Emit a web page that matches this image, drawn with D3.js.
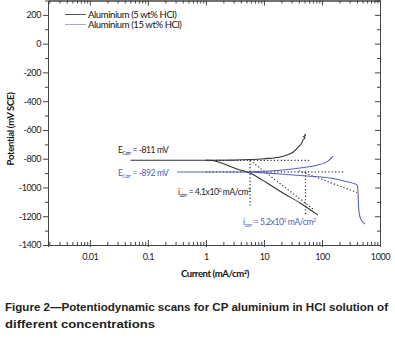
<!DOCTYPE html>
<html><head><meta charset="utf-8">
<script src="https://cdn.jsdelivr.net/npm/d3@7"></script>
<style>
body{margin:0;background:#fff;}
svg{display:block;}
.tick text{font-family:Lato,"Open Sans",sans-serif;font-size:9px;letter-spacing:-0.4px;fill:#222;}
.ann{font-family:Lato,"Open Sans",sans-serif;font-size:8.5px;letter-spacing:-0.4px;}
</style></head>
<body>
<script>
// ---- data ----
const currentTicks = [0.01, 0.1, 1, 10, 100, 1000];
const potentialTicks = [-1400, -1200, -1000, -800, -600, -400, -200, 0, 200];
const seriesNames = ["Aluminium (5 wt% HCl)", "Aluminium (15 wt% HCl)"];
// 5 wt% HCl: [current mA/cm2, potential mV]
const al5Anodic = [[0.05,-811],[0.3,-811],[1,-811],[3,-810],[6,-806],[10,-800],[19,-788],[32,-753],[39,-719],[45,-691],[47,-670],[51,-655],[48,-648],[52,-640],[50,-630]];
const al5Cathodic = [[1,-811],[1.32,-813],[3.87,-878],[5.76,-899],[11.3,-969],[21.3,-1038],[41.9,-1108],[85.5,-1192]];
// 15 wt% HCl
const al15Anodic = [[0.32,-892],[1,-892],[5.8,-891],[19,-880],[42,-865],[82,-845],[122,-822],[155,-782]];
const al15Cathodic = [[5.8,-892],[18.9,-906],[55,-920],[137,-934],[270,-960],[402,-983],[415,-1010],[420,-1060],[425,-1120],[435,-1170],[455,-1210],[490,-1235],[550,-1255]];
// guide / Tafel lines
const ecorr = [-811, -892];
const icorr = [5.76, 52];
const al5Ecorr = [[1,-811],[62,-811]];
const al5Icorr = [[5.76,-811],[5.76,-1125]];
const al5Tafel = [[5.76,-811],[70,-1150]];
const al15Ecorr = [[1,-892],[250,-892]];
const al15Icorr = [[52,-892],[52,-1192]];
const al15Tafel = [[40,-884],[400,-1035]];

const W = 395, H = 340;
const svg = d3.select("body").append("svg").attr("width", W).attr("height", H);
const x = d3.scaleLog().domain([0.0019, 1000]).range([48, 380]);
const y = d3.scaleLinear().domain([-1400, 300]).range([245, 0.5]);
const axisColor = "#444";

// minor ticks
const minorX = [];
for (let e = -3; e < 3; e++) for (let m = 2; m <= 9; m++) { const v = m * Math.pow(10, e); if (v > 0.0019 && v < 1000) minorX.push(v); }
const minorY = d3.range(-1300, 300, 200);

function styleAxis(g){ g.selectAll("path,line").attr("stroke", axisColor).attr("stroke-width", 1); }

// bottom
svg.append("g").attr("transform","translate(0,245)").call(d3.axisBottom(x).tickValues(minorX).tickSize(-3).tickFormat("")).call(styleAxis);
svg.append("g").attr("transform","translate(0,245)").call(d3.axisBottom(x).tickValues(currentTicks).tickSize(2).tickFormat("")).call(styleAxis);
svg.append("g").attr("transform","translate(0,245)").call(d3.axisBottom(x).tickValues(currentTicks).tickSizeInner(-5).tickSizeOuter(0).tickPadding(9).tickFormat(d => String(d))).call(styleAxis);
// top
svg.append("g").attr("transform","translate(0,0.5)").call(d3.axisTop(x).tickValues(minorX).tickSize(-3).tickFormat("")).call(styleAxis);
svg.append("g").attr("transform","translate(0,0.5)").call(d3.axisTop(x).tickValues(currentTicks).tickSize(-5).tickFormat("")).call(styleAxis);
// left
svg.append("g").attr("transform","translate(48,0)").call(d3.axisLeft(y).tickValues(minorY).tickSize(3).tickFormat("")).call(styleAxis);
svg.append("g").attr("transform","translate(48,0)").call(d3.axisLeft(y).tickValues(potentialTicks).tickSizeInner(5).tickSizeOuter(0).tickPadding(2).tickFormat(d => String(d))).call(styleAxis);
// right
svg.append("g").attr("transform","translate(380,0)").call(d3.axisRight(y).tickValues(minorY).tickSize(-3).tickFormat("")).call(styleAxis);
svg.append("g").attr("transform","translate(380,0)").call(d3.axisRight(y).tickValues(potentialTicks).tickSize(-5).tickFormat("")).call(styleAxis);
svg.selectAll(".domain").attr("stroke", axisColor);

const c5 = "#333333", c15 = "#5b62b5";
const gen = d3.line().x(d=>x(d[0])).y(d=>y(d[1]));
const genC = d3.line().x(d=>x(d[0])).y(d=>y(d[1])).curve(d3.curveCatmullRom);

function path(data, color, w, dash, g){
  svg.append("path").datum(data).attr("d", g||gen).attr("fill","none")
    .attr("stroke", color).attr("stroke-width", w).attr("stroke-dasharray", dash||null);
}
// dotted guides
[al5Ecorr, al5Icorr, al5Tafel, al15Ecorr, al15Icorr, al15Tafel].forEach(d => path(d, "#333", 1.2, "1.2,2.2"));
// curves
path(al5Anodic, c5, 1.1, null, genC);
path(al5Cathodic, c5, 1.1, null, genC);
path(al15Anodic, c15, 1.1, null, genC);
path(al15Cathodic, c15, 1.1, null, genC);

// legend
const leg = svg.append("g");
[["#555", 0], ["#a8a8cc", 1]].forEach(([col, i]) => {
  leg.append("line").attr("x1",65).attr("x2",86).attr("y1",14.5+i*10).attr("y2",14.5+i*10).attr("stroke",col).attr("stroke-width",1);
  leg.append("text").attr("class","ann").attr("x",88).attr("y",18+i*10).attr("fill","#111").style("font-size","9.5px").text(seriesNames[i]);
});

// annotations
function ecorrLabel(xp, yp, val, col){
  const t = svg.append("text").attr("class","ann").attr("x",xp).attr("y",yp).attr("fill",col);
  t.append("tspan").text("E");
  t.append("tspan").attr("dy",2).style("font-size","5px").text("Corr");
  t.append("tspan").attr("dy",-2).text(" = " + val + " mV");
}
ecorrLabel(118, 153, ecorr[0], "#222");
ecorrLabel(118, 176, ecorr[1], "#4b5cb8");
function icorrLabel(xp, yp, mant, exp, col){
  const t = svg.append("text").attr("class","ann").attr("x",xp).attr("y",yp).attr("fill",col);
  t.append("tspan").text("i");
  t.append("tspan").attr("dy",2).style("font-size","5px").text("corr");
  t.append("tspan").attr("dy",-2).text(" = " + mant + "x10");
  t.append("tspan").attr("dy",-3).style("font-size","5px").text(exp);
  t.append("tspan").attr("dy",3).text(" mA/cm");
  t.append("tspan").attr("dy",-3).style("font-size","5px").text("2");
}
icorrLabel(178, 195, "4.1", "0", "#222");
icorrLabel(243, 225, "5.2", "1", "#4b5cb8");

// axis titles
const xt = svg.append("text").attr("x",215).attr("y",277).attr("text-anchor","middle")
  .style("font-family","Lato,sans-serif").style("font-weight","bold").style("font-size","9.5px").style("letter-spacing","-0.4px").attr("fill","#111");
xt.append("tspan").text("Current (mA/cm");
xt.append("tspan").attr("dy",-3).style("font-size","6px").text("2");
xt.append("tspan").attr("dy",3).text(")");
svg.append("text").attr("transform","translate(14,129) rotate(-90)").attr("text-anchor","middle")
  .style("font-family","Lato,sans-serif").style("font-weight","bold").style("font-size","9.5px").style("letter-spacing","-0.3px").attr("fill","#111")
  .text("Potential (mV SCE)");

// caption
svg.append("text").attr("x",5).attr("y",311).attr("textLength",383).attr("lengthAdjust","spacingAndGlyphs")
  .style("font-family","'Liberation Sans',Arial,sans-serif").style("font-weight","bold").style("font-size","11.5px").attr("fill","#222")
  .text("Figure 2\u2014Potentiodynamic scans for CP aluminium in HCl solution of");
svg.append("text").attr("x",5).attr("y",328).attr("textLength",150).attr("lengthAdjust","spacingAndGlyphs")
  .style("font-family","'Liberation Sans',Arial,sans-serif").style("font-weight","bold").style("font-size","11.5px").attr("fill","#222")
  .text("different concentrations");
</script>
</body></html>
